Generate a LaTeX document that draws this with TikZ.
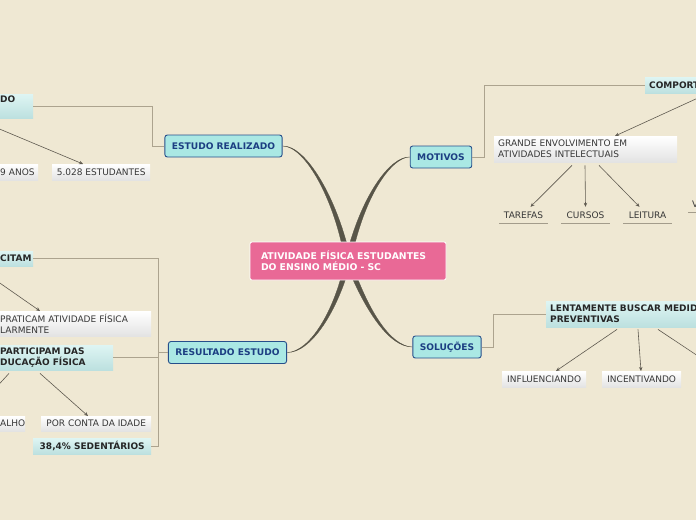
\documentclass[tikz,border=0pt]{standalone}
\usepackage{fontspec}
\setmainfont{DejaVu Sans}
\usetikzlibrary{arrows.meta}

\begin{document}
\begin{tikzpicture}[x=1pt, y=-1pt, every node/.style={align=left}]
    % cores do mapa
    \definecolor{fundo}{RGB}{239,232,211}
    \definecolor{rosa}{RGB}{233,105,150}
    \definecolor{ciano}{RGB}{170,232,228}
    \definecolor{azulborda}{RGB}{38,78,138}
    \definecolor{azultexto}{RGB}{28,62,130}
    \definecolor{cianoclaro}{RGB}{222,245,243}
    \definecolor{cianoescuro}{RGB}{188,224,223}
    \definecolor{ramocor}{RGB}{88,85,72}
    \definecolor{linhacor}{RGB}{172,163,142}
    \definecolor{setacor}{RGB}{95,90,80}
    \definecolor{textocinza}{RGB}{55,55,55}

    % estilos
    \tikzstyle{centro} = [rectangle, rounded corners=2pt, fill=rosa, draw=white, line width=0.8pt, minimum height=38pt, inner xsep=11pt, text width=174pt, text=white, font=\fontsize{9.3}{11}\selectfont\bfseries]
    \tikzstyle{topico} = [rectangle, rounded corners=2.5pt, fill=ciano, draw=azulborda, line width=0.9pt, minimum height=22pt, inner xsep=7pt, text=azultexto, font=\fontsize{9.1}{11}\selectfont\bfseries]
    \tikzstyle{subtopico} = [rectangle, anchor=north west, top color=cianoclaro, bottom color=cianoescuro, draw=none, inner xsep=4pt, inner ysep=0pt, text=black!85, font=\fontsize{9}{11}\selectfont\bfseries]
    \tikzstyle{folha} = [rectangle, anchor=north west, top color=white, bottom color=black!11, draw=none, inner xsep=4pt, inner ysep=0pt, text=textocinza, font=\fontsize{9}{11}\selectfont]
    \tikzstyle{rotulo} = [minimum width=48pt, minimum height=16pt, inner sep=0pt, align=center, text=textocinza, font=\fontsize{9}{11}\selectfont]
    \tikzstyle{conector} = [draw=linhacor, line width=0.9pt]
    \tikzstyle{filho} = [-{Stealth[length=4pt, width=3.5pt]}, draw=setacor, line width=0.6pt]
    \tikzstyle{sublinha} = [draw=linhacor!80!gray, line width=0.7pt]
    \tikzstyle{ramo} = [fill=ramocor, draw=ramocor, line width=0.3pt]

    % fundo
    \useasboundingbox (0,0) rectangle (696,520);
    \fill[fundo] (0,0) rectangle (696,520);
    \clip (0,0) rectangle (696,520);
    \coordinate (meio) at (348,261);

    % topicos principais
    \node[topico] (estudo) at (223.5,146) {ESTUDO REALIZADO};
    \node[topico] (motivos) at (441,157) {MOTIVOS};
    \node[topico] (resultado) at (227.5,352.5) {RESULTADO ESTUDO};
    \node[topico] (solucoes) at (447,347) {SOLUÇÕES};

    % ramos grossos ate o centro
    \fill[ramo] (estudo.east) .. controls (305,146) and (335,200) .. ([xshift=-3pt]meio)
        -- ([xshift=3pt]meio) .. controls (338,199) and (306,145) .. (estudo.east) -- cycle;
    \fill[ramo] (motivos.west) .. controls (392,157) and (364,195) .. ([xshift=3pt]meio)
        -- ([xshift=-3pt]meio) .. controls (361,194) and (391,156) .. (motivos.west) -- cycle;
    \fill[ramo] (resultado.east) .. controls (310,352) and (335,310) .. ([xshift=-3pt]meio)
        -- ([xshift=3pt]meio) .. controls (338,311) and (311,353) .. (resultado.east) -- cycle;
    \fill[ramo] (solucoes.west) .. controls (390,346) and (368,310) .. ([xshift=3pt]meio)
        -- ([xshift=-3pt]meio) .. controls (365,311) and (389,347) .. (solucoes.west) -- cycle;

    % centro
    \node[centro] (titulo) at (meio) {ATIVIDADE FÍSICA ESTUDANTES\\DO ENSINO MÉDIO - SC};

    % estudo realizado
    \node[subtopico, text width=29pt, minimum height=24pt] (feito) at (-4,94) {DO\\\strut};
    \node[folha, text width=36pt, inner xsep=2pt, minimum height=16pt] (nove) at (-2,164) {9 ANOS};
    \node[folha, minimum width=98pt, minimum height=16pt, align=center] (estudantes) at (52,164) {5.028 ESTUDANTES};
    \draw[conector] (estudo.west) -- ++(-12,0) |- (feito.east);
    \draw[filho] ([xshift=-17pt, yshift=-2pt]feito.south west) -- ([xshift=31pt]estudantes.north west);

    % resultado estudo
    \node[subtopico, text width=29pt, minimum height=15pt] (citam) at (-4,251) {CITAM};
    \node[folha, text width=147pt, minimum height=25pt] (praticam) at (-4,311) {PRATICAM ATIVIDADE FÍSICA\\LARMENTE};
    \node[subtopico, text width=109pt, minimum height=25pt] (participam) at (-4,345) {PARTICIPAM DAS\\DUCAÇÃO FÍSICA};
    \node[folha, text width=21pt, minimum height=15pt] (alho) at (-4,416) {ALHO};
    \node[folha, minimum width=110pt, minimum height=15pt, align=center] (idade) at (41,416) {POR CONTA DA IDADE};
    \node[subtopico, minimum width=118pt, minimum height=16pt, align=center] (sedentarios) at (33,438) {38,4\% SEDENTÁRIOS};
    \draw[conector] (resultado.west) -- ++(-10,0) |- (citam.east);
    \draw[conector] (resultado.west) -- ++(-10,0) |- (participam.east);
    \draw[conector] (resultado.west) -- ++(-10,0) |- (sedentarios.east);
    \draw[filho] ([xshift=-10pt, yshift=-7pt]citam.south west) -- ([xshift=44pt]praticam.north west);
    \draw[filho] ([xshift=13pt, yshift=-3pt]participam.south west) -- ([xshift=-26pt]alho.north west);
    \draw[filho] ([xshift=44pt, yshift=-3pt]participam.south west) -- ([xshift=47pt]idade.north west);

    % motivos
    \node[subtopico, text width=150pt, minimum height=16pt] (comport) at (645,77) {COMPORT};
    \node[folha, text width=175pt, minimum height=26pt] (grande) at (494,136) {GRANDE ENVOLVIMENTO EM\\ATIVIDADES INTELECTUAIS};
    \node[rotulo] (tarefas) at (523.5,215) {TAREFAS};
    \node[rotulo] (cursos) at (585.5,215) {CURSOS};
    \node[rotulo] (leitura) at (647.5,215) {LEITURA};
    \node[rotulo, anchor=south west, text width=40pt, align=left, inner xsep=2pt] (vnode) at (688,212) {V};
    \draw[conector] (motivos.east) -- ++(12,0) |- (comport.west);
    \draw[filho] ([xshift=63pt]comport.south west) -- ([xshift=121pt]grande.north west);
    \draw[filho] ([xshift=78pt, yshift=-3pt]grande.south west) -- ([xshift=7pt]tarefas.north);
    \draw[filho] ([xshift=91pt, yshift=-3pt]grande.south west) -- (cursos.north);
    \draw[filho] ([xshift=105pt, yshift=-3pt]grande.south west) -- ([xshift=-8pt]leitura.north);
    \draw[sublinha] (tarefas.south west) -- (tarefas.south east);
    \draw[sublinha] (cursos.south west) -- (cursos.south east);
    \draw[sublinha] (leitura.south west) -- (leitura.south east);
    \draw[sublinha] (vnode.south west) -- (vnode.south east);

    % solucoes
    \node[subtopico, text width=200pt, minimum height=26pt] (lentamente) at (546,301) {LENTAMENTE BUSCAR MEDID\\PREVENTIVAS};
    \node[folha, minimum width=84pt, minimum height=16pt, align=center] (influenciando) at (502,371) {INFLUENCIANDO};
    \node[folha, minimum width=79pt, minimum height=16pt, align=center] (incentivando) at (602,371) {INCENTIVANDO};
    \coordinate (fora) at (740,384);
    \draw[conector] (solucoes.east) -- ++(12,0) |- (lentamente.west);
    \draw[filho] ([xshift=71pt, yshift=-2pt]lentamente.south west) -- ([xshift=54pt]influenciando.north west);
    \draw[filho] ([xshift=92pt, yshift=-2pt]lentamente.south west) -- ([xshift=39pt]incentivando.north west);
    \draw[filho] ([xshift=112pt, yshift=-2pt]lentamente.south west) -- (fora);
\end{tikzpicture}
\end{document}
